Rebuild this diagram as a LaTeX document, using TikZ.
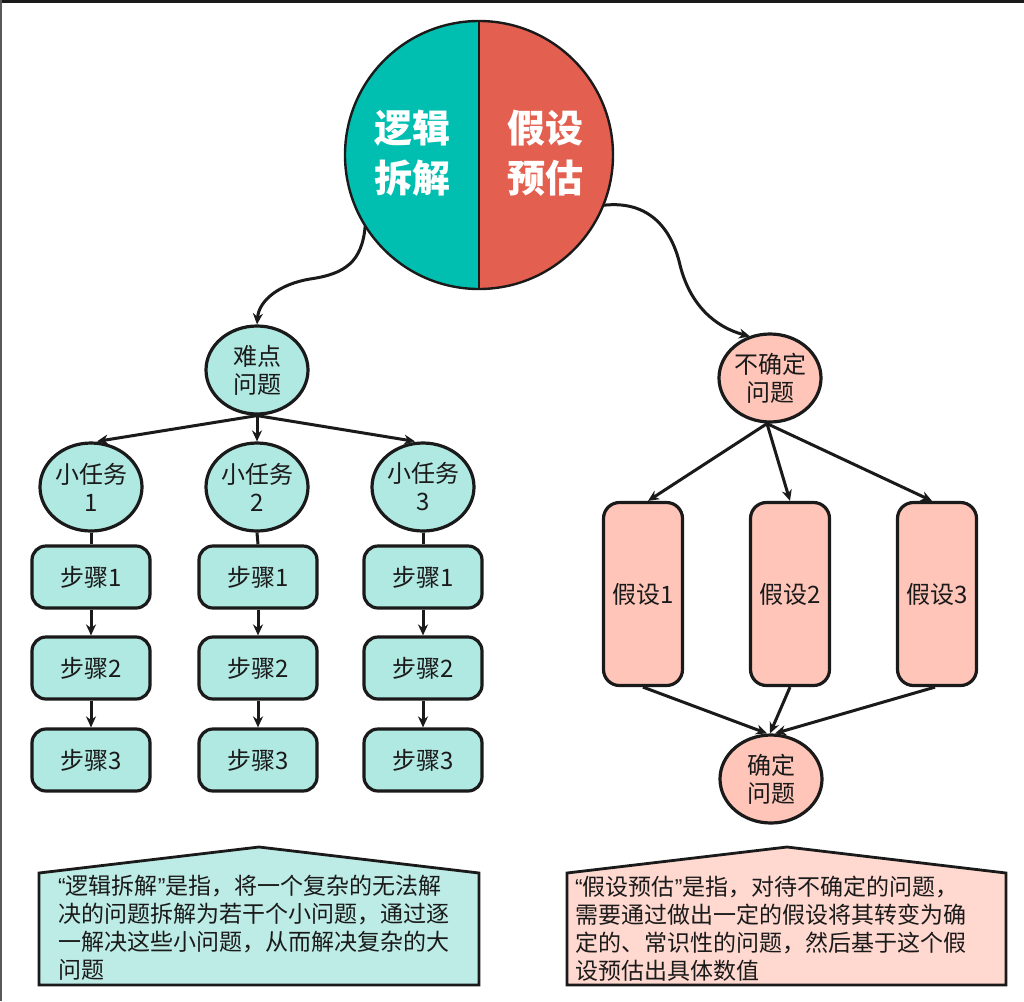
\documentclass[tikz,border=0pt]{standalone}
\usepackage{fontspec}
\setmainfont{Noto Sans CJK SC}
\newfontfamily\lat{Liberation Sans}
\usetikzlibrary{shapes.geometric,arrows.meta}
\definecolor{bigteal}{HTML}{00BFB0}
\definecolor{bigred}{HTML}{E35F4F}
\definecolor{lteal}{HTML}{B0E8E2}
\definecolor{bteal}{HTML}{BDEBE5}
\definecolor{lsalmon}{HTML}{FFC5B9}
\definecolor{bpink}{HTML}{FFD8D0}
\definecolor{ink}{HTML}{1A1A1A}
\begin{document}
\begin{tikzpicture}[x=1pt,y=-1pt,
  ell/.style={ellipse, draw=ink, line width=3.2pt, minimum width=102pt, minimum height=88pt, inner sep=0pt, align=center, text=ink, font=\fontsize{24}{28}\selectfont},
  tealell/.style={ell, fill=lteal},
  salell/.style={ell, fill=lsalmon},
  stepbox/.style={rectangle, rounded corners=14pt, draw=ink, line width=3.2pt, fill=lteal, minimum width=118pt, minimum height=62pt, inner sep=0pt, text=ink, font=\fontsize{24}{28}\selectfont},
  hypbox/.style={rectangle, rounded corners=16pt, draw=ink, line width=3.2pt, fill=lsalmon, minimum width=79pt, minimum height=183pt, inner sep=0pt, text=ink, font=\fontsize{24}{28}\selectfont},
  bigtext/.style={text=white, align=center, inner sep=0pt, font=\bfseries\fontsize{38}{50}\selectfont},
  arr/.style={draw=ink, line width=3pt, -{Stealth[length=11pt,width=10pt,inset=3.5pt]}},
  plain/.style={draw=ink, line width=3pt},
  desc/.style={anchor=north west, align=left, inner sep=0pt, text=ink, font=\fontsize{23}{28}\selectfont}
]
\useasboundingbox (0,0) rectangle (1024,1001);
\fill[white] (0,0) rectangle (1024,1001);
\fill[ink] (0,0) rectangle (1024,3);
\fill[gray!70!black] (0,0) rectangle (2,1001);

% big circle
\node[circle, minimum size=268pt, inner sep=0pt] (big) at (479,155) {};
\begin{scope}
  \clip (big.center) circle[radius=134pt];
  \fill[bigteal] (340,15) rectangle (479,295);
  \fill[bigred] (479,15) rectangle (620,295);
\end{scope}
\draw[ink, line width=2.4pt] (big.north) -- (big.south);
\draw[ink, line width=2.4pt] (big.center) circle[radius=134pt];
\node[bigtext] (lj) at (412,153) {逻辑\\拆解};
\node[bigtext] (pg) at (545,153) {假设\\预估};

% left tree
\node[tealell] (nd) at (257,370) {难点\\问题};
\node[tealell] (t1) at (91,487) {小任务\\1};
\node[tealell] (t2) at (257,487) {小任务\\2};
\node[tealell] (t3) at (423,487) {小任务\\3};
\foreach \c/\x in {1/91,2/258,3/423}{
  \node[stepbox] (s\c a) at (\x,577) {步骤1};
  \node[stepbox] (s\c b) at (\x,668) {步骤2};
  \node[stepbox] (s\c c) at (\x,760) {步骤3};
}
\draw[arr] (big.212) .. controls (362,262) and (345,274) .. (310,279) .. controls (280,284) and (259,300) .. (nd.north);
\draw[arr] (nd.south) -- ([xshift=6pt]t1.north);
\draw[arr] (nd.south) -- (t2.north);
\draw[arr] (nd.south) -- ([xshift=-8pt]t3.north);
\foreach \c in {1,2,3}{
  \draw[plain] (t\c.south) -- (s\c a.north);
  \draw[arr] (s\c a.south) -- (s\c b.north);
  \draw[arr] (s\c b.south) -- (s\c c.north);
}

% right tree
\node[salell] (ud) at (770,378) {不确定\\问题};
\node[hypbox] (h1) at (643,594) {假设1};
\node[hypbox] (h2) at (790,594) {假设2};
\node[hypbox] (h3) at (937,594) {假设3};
\node[salell] (dq) at (771,779) {确定\\问题};
\draw[arr] (big.338) .. controls (650,200) and (672,230) .. (680,265) .. controls (690,305) and (715,327) .. ([xshift=-20pt,yshift=-4pt]ud.north);
\draw[arr] ([xshift=-3pt]ud.south) -- ([xshift=5pt]h1.north);
\draw[arr] ([xshift=-3pt]ud.south) -- (h2.north);
\draw[arr] ([xshift=-3pt]ud.south) -- ([xshift=-5pt]h3.north);
\draw[arr] (h1.south) -- ([xshift=-4pt]dq.north);
\draw[arr] (h2.south) -- ([xshift=-1pt]dq.north);
\draw[arr] ([xshift=-2pt]h3.south) -- ([xshift=4pt]dq.north);

% description boxes
\draw[ink, line width=2.8pt, fill=bteal] (39,873) -- (259,847) -- (479,873) -- (479,985) -- (39,985) -- cycle;
\node[desc] (dl) at (58,875) {{\lat “}逻辑拆解{\lat ”}是指，将一个复杂的无法解\\决的问题拆解为若干个小问题，通过逐\\一解决这些小问题，从而解决复杂的大\\问题};
\draw[ink, line width=2.8pt, fill=bpink] (567,873) -- (787,847) -- (1006,873) -- (1006,985) -- (567,985) -- cycle;
\node[desc] (dr) at (575,876) {{\lat “}假设预估{\lat ”}是指，对待不确定的问题，\\需要通过做出一定的假设将其转变为确\\定的、常识性的问题，然后基于这个假\\设预估出具体数值};
\end{tikzpicture}
\end{document}
